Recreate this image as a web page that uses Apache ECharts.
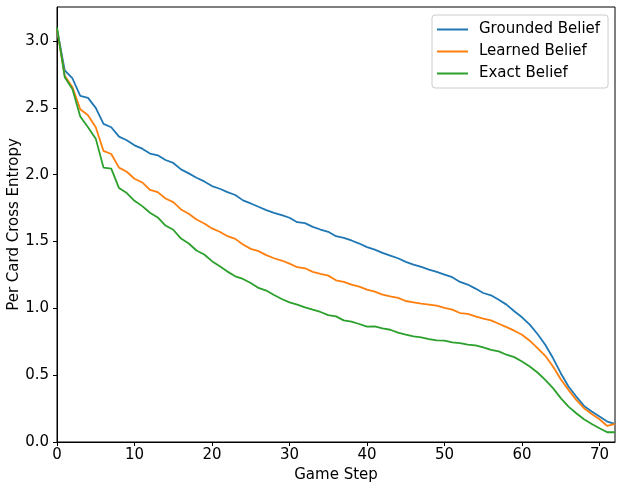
<!DOCTYPE html>
<html>
<head>
<meta charset="utf-8">
<script src="https://cdn.jsdelivr.net/npm/echarts@6/dist/echarts.min.js"></script>
<style>
  html, body { margin: 0; padding: 0; background: #fff; }
  #chart { width: 622px; height: 490px; }
</style>
</head>
<body>
<div id="chart"></div>
<script>
// values, one per game step (0..72)
var grounded = [3.09, 2.78, 2.72, 2.59, 2.575, 2.50, 2.38, 2.355, 2.285, 2.258,
  2.22, 2.195, 2.158, 2.145, 2.11, 2.088, 2.04, 2.01, 1.977, 1.95,
  1.915, 1.895, 1.87, 1.848, 1.808, 1.785, 1.76, 1.735, 1.715, 1.698,
  1.678, 1.645, 1.638, 1.61, 1.59, 1.573, 1.54, 1.528, 1.508, 1.485,
  1.458, 1.44, 1.415, 1.395, 1.375, 1.348, 1.328, 1.31, 1.29, 1.273,
  1.253, 1.233, 1.198, 1.178, 1.148, 1.115, 1.098, 1.065, 1.028, 0.978,
  0.933, 0.878, 0.808, 0.728, 0.628, 0.515, 0.415, 0.34, 0.27, 0.228,
  0.19, 0.153, 0.135];
var learned = [3.09, 2.74, 2.655, 2.49, 2.445, 2.355, 2.178, 2.155, 2.053, 2.022,
  1.97, 1.942, 1.887, 1.87, 1.822, 1.795, 1.74, 1.708, 1.665, 1.635,
  1.598, 1.573, 1.54, 1.52, 1.478, 1.445, 1.428, 1.398, 1.375, 1.358,
  1.335, 1.308, 1.30, 1.273, 1.258, 1.245, 1.21, 1.198, 1.178, 1.163,
  1.14, 1.125, 1.103, 1.09, 1.078, 1.055, 1.045, 1.035, 1.028, 1.02,
  1.003, 0.99, 0.965, 0.958, 0.94, 0.923, 0.91, 0.885, 0.86, 0.833,
  0.803, 0.758, 0.703, 0.645, 0.565, 0.47, 0.39, 0.315, 0.253, 0.21,
  0.17, 0.12, 0.135];
var exact = [3.1, 2.73, 2.64, 2.435, 2.355, 2.27, 2.053, 2.045, 1.9, 1.863,
  1.805, 1.765, 1.715, 1.68, 1.62, 1.588, 1.522, 1.485, 1.433, 1.403,
  1.353, 1.315, 1.275, 1.24, 1.22, 1.19, 1.153, 1.133, 1.1, 1.07,
  1.045, 1.028, 1.008, 0.99, 0.973, 0.95, 0.94, 0.91, 0.90, 0.883,
  0.863, 0.865, 0.85, 0.84, 0.818, 0.803, 0.79, 0.783, 0.77, 0.76,
  0.758, 0.745, 0.74, 0.728, 0.723, 0.708, 0.69, 0.678, 0.653, 0.635,
  0.603, 0.565, 0.52, 0.465, 0.403, 0.328, 0.265, 0.215, 0.17, 0.135,
  0.103, 0.073, 0.073];
var seriesNames = ['Grounded Belief', 'Learned Belief', 'Exact Belief'];
var xTicks = [0, 10, 20, 30, 40, 50, 60, 70];
var yTicks = [0, 0.5, 1, 1.5, 2, 2.5, 3];

var font = 'DejaVu Sans';
var chart = echarts.init(document.getElementById('chart'));

function toPairs(arr) {
  return arr.map(function (v, i) { return [i, v]; });
}

chart.setOption({
  animation: false,
  backgroundColor: '#fff',
  grid: {
    left: 57, right: 7, top: 7, bottom: 48,
    outerBoundsMode: 'none',
    containLabel: false,
    show: true, borderColor: '#000', borderWidth: 1
  },
  legend: {
    data: seriesNames,
    orient: 'vertical',
    left: 432, top: 15,
    padding: [7, 8, 7, 5],
    itemGap: 7,
    itemWidth: 31, itemHeight: 2,
    icon: 'rect',
    backgroundColor: 'rgba(255,255,255,0.8)',
    borderColor: '#ccc', borderWidth: 1, borderRadius: 3,
    textStyle: { fontFamily: font, fontSize: 15, color: '#000', padding: [0, 0, 0, 6] }
  },
  xAxis: {
    type: 'value',
    min: 0, max: 72,
    name: 'Game Step',
    nameLocation: 'middle',
    nameGap: 26,
    nameMoveOverlap: false,
    nameTextStyle: { fontFamily: font, fontSize: 15, color: '#000' },
    splitLine: { show: false },
    axisLine: { lineStyle: { color: '#000', width: 1 } },
    axisTick: { customValues: xTicks, length: 4, inside: false, lineStyle: { color: '#000' } },
    axisLabel: {
      customValues: xTicks, margin: 6,
      fontFamily: font, fontSize: 15, color: '#000'
    }
  },
  yAxis: {
    type: 'value',
    min: 0, max: 3.255,
    name: 'Per Card Cross Entropy',
    nameLocation: 'middle',
    nameGap: 35,
    nameMoveOverlap: false,
    nameTextStyle: { fontFamily: font, fontSize: 15, color: '#000' },
    splitLine: { show: false },
    axisLine: { show: true, lineStyle: { color: '#000', width: 1 } },
    axisTick: { show: true, customValues: yTicks, length: 4, lineStyle: { color: '#000' } },
    axisLabel: {
      customValues: yTicks, margin: 8,
      fontFamily: font, fontSize: 15, color: '#000',
      formatter: function (v) { return v.toFixed(1); }
    }
  },
  series: [
    { name: seriesNames[0], type: 'line', data: toPairs(grounded), showSymbol: false,
      lineStyle: { color: '#1f77b4', width: 1.8 }, itemStyle: { color: '#1f77b4' } },
    { name: seriesNames[1], type: 'line', data: toPairs(learned), showSymbol: false,
      lineStyle: { color: '#ff7f0e', width: 1.8 }, itemStyle: { color: '#ff7f0e' } },
    { name: seriesNames[2], type: 'line', data: toPairs(exact), showSymbol: false,
      lineStyle: { color: '#2ca02c', width: 1.8 }, itemStyle: { color: '#2ca02c' } }
  ]
});
</script>
</body>
</html>
